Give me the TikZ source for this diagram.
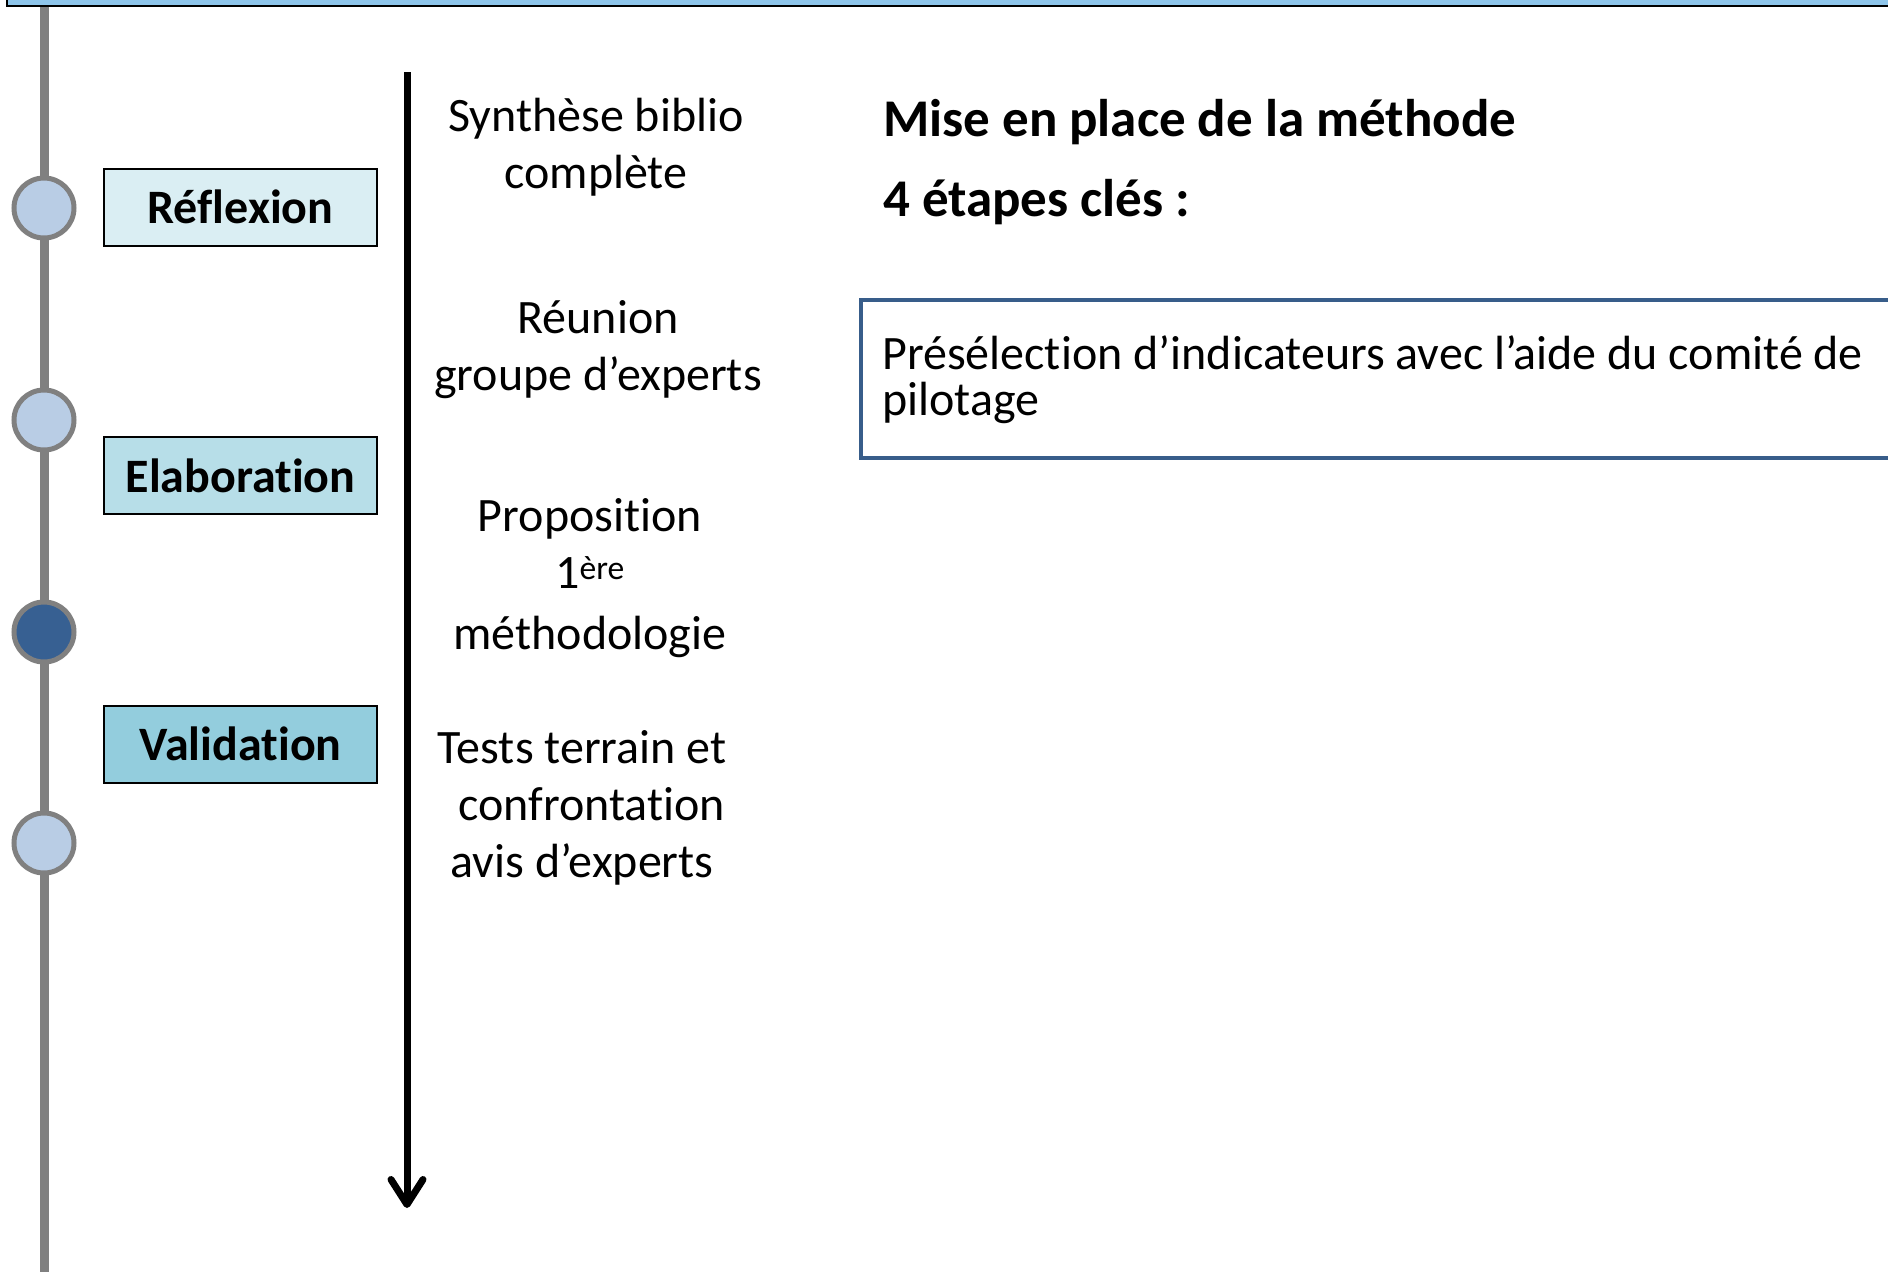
\documentclass[tikz,border=0pt]{standalone}
\usepackage{fontspec}
\setmainfont{Carlito}[Ligatures=NoCommon]
\usetikzlibrary{arrows.meta}
\definecolor{barblue}{RGB}{142,197,234}
\definecolor{circlight}{RGB}{185,205,229}
\definecolor{circdark}{RGB}{55,96,146}
\definecolor{circgray}{RGB}{128,128,128}
\definecolor{boxA}{RGB}{218,238,243}
\definecolor{boxB}{RGB}{183,222,232}
\definecolor{boxC}{RGB}{147,205,221}
\definecolor{frameblue}{RGB}{56,93,138}
\tikzset{
  milestone/.style={circle, draw=circgray, line width=5pt, minimum size=60pt, inner sep=0pt, fill=circlight},
  phasebox/.style={draw=black, line width=2pt, minimum width=273pt, minimum height=77pt, inner sep=0pt, font=\fontsize{48}{56}\selectfont\bfseries},
  steptext/.style={align=center, inner sep=0pt, font=\fontsize{48}{57}\selectfont},
  titletext/.style={anchor=west, inner sep=0pt, font=\fontsize{53}{60}\selectfont\bfseries},
}
\begin{document}
\begin{tikzpicture}[x=1pt,y=-1pt]
\clip (0,0) rectangle (1888,1272);
\fill[white] (0,0) rectangle (1888,1272);
% top bar
\draw[fill=barblue, line width=2pt] (7,-20) rectangle (1910,6);
% timeline
\coordinate (ltop) at (44,7);
\coordinate (lbot) at (44,1280);
\draw[circgray, line width=9pt] (ltop) -- (lbot);
\node[milestone] (m1) at (44,208) {};
\node[milestone] (m2) at (44,420) {};
\node[milestone, fill=circdark] (m3) at (44,632) {};
\node[milestone] (m4) at (44,843) {};
% phase boxes
\node[phasebox, fill=boxA] (p1) at (240.5,207) {Réflexion};
\node[phasebox, fill=boxB] (p2) at (240.5,475.5) {Elaboration};
\node[phasebox, fill=boxC] (p3) at (240.5,744) {Validation};
% arrow
\coordinate (atop) at (407,72);
\coordinate (abot) at (407,1208);
\draw[line width=7pt, -{Straight Barb[length=25pt,width=32pt,round]}] (atop) -- (abot);
% steps
\node[steptext] (s1) at (596,147) {Synthèse biblio\\complète};
\node[steptext] (s2) at (598,350) {Réunion\\groupe d’experts};
\node[steptext] (s3) at (590,578) {Proposition\\1\textsuperscript{ère}\\[4pt]méthodologie};
\node[steptext] (s4) at (582,808) {Tests terrain et\\\hspace*{0.4em}confrontation\\avis d’experts};
% right
\node[titletext] (t1) at (883,122) {Mise en place de la méthode};
\node[titletext] (t2) at (883,202) {4 étapes clés :};
\node[draw=frameblue, line width=4pt, fill=white, minimum width=1030pt, minimum height=158pt, anchor=north west, inner sep=0pt] (frame) at (859,298) {};
\node[anchor=north west, align=left, inner sep=0pt, font=\fontsize{48}{46}\selectfont] (ftext) at (882,335) {Présélection d’indicateurs avec l’aide du comité de\\pilotage};
\end{tikzpicture}
\end{document}
